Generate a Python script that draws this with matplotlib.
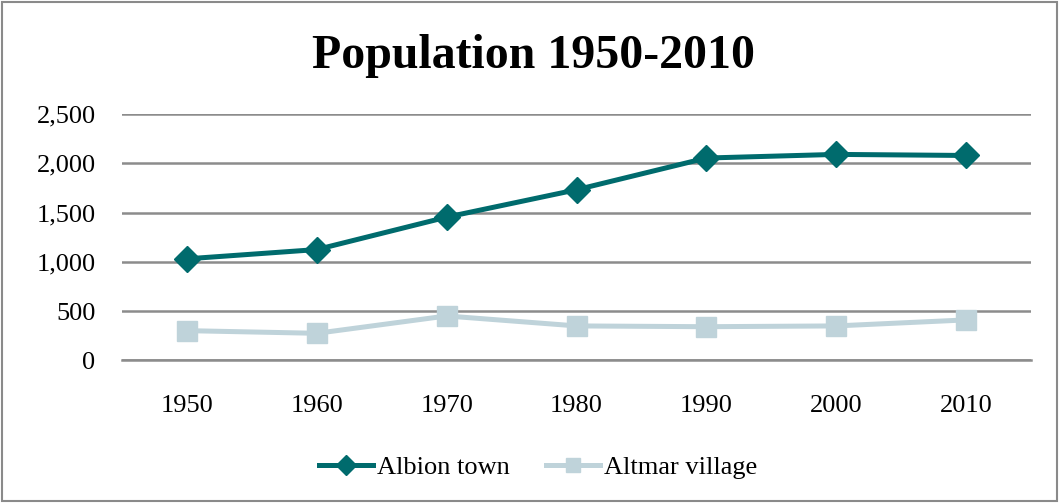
import matplotlib.pyplot as plt
from matplotlib.ticker import FuncFormatter
from matplotlib.patches import Rectangle

# dados
years = ["1950", "1960", "1970", "1980", "1990", "2000", "2010"]
albion = [1030, 1124, 1453, 1731, 2053, 2090, 2079]
altmar = [301, 274, 450, 349, 341, 349, 410]

plt.rcParams['font.family'] = ['Liberation Serif', 'DejaVu Serif']

fig = plt.figure(figsize=(10.61, 5.03), dpi=100)
ax = fig.add_axes([122 / 1061, 1 - 360.3 / 503, (1031 - 122) / 1061, (360.3 - 114) / 503])

x = range(len(years))
ax.plot(x, albion, color='#006B6D', lw=3.6, marker='D', ms=13, label='Albion town')
ax.plot(x, altmar, color='#BFD3DA', lw=3.6, marker='s', ms=14, label='Altmar village')

ax.set_xlim(-0.5, len(years) - 0.5)
ax.set_ylim(0, 2500)
ax.set_yticks(range(0, 2501, 500))
ax.yaxis.set_major_formatter(FuncFormatter(lambda v, p: f"{int(v):,}"))
ax.set_xticks(list(x))
ax.set_xticklabels(years)
ax.tick_params(length=0, labelsize=19)
ax.tick_params(axis='x', pad=25)
ax.tick_params(axis='y', pad=19)
ax.grid(axis='y', color='#8C8C8C', lw=1.8)
ax.axhline(0, color='#8C8C8C', lw=1.8, clip_on=False, zorder=0.5)
ax.set_axisbelow(True)
for s in ax.spines.values():
    s.set_visible(False)

fig.text(0.503, 1 - 56 / 503, 'Population 1950-2010', ha='center', va='center',
         fontsize=34.5, fontweight='bold')

leg = fig.legend(loc='center', bbox_to_anchor=(538 / 1061, 1 - 467 / 503), ncol=2, frameon=False,
                 fontsize=19, handlelength=2.05, handletextpad=0.15, columnspacing=1.35)
for h in leg.legend_handles:
    h.set_markersize(10)

fig.patches.append(Rectangle((2 / 1061, 2 / 503), 1055 / 1061, 499 / 503, transform=fig.transFigure,
                             fill=False, edgecolor='#8A8A8A', lw=1.5))

fig.savefig('out.png', dpi=100)
